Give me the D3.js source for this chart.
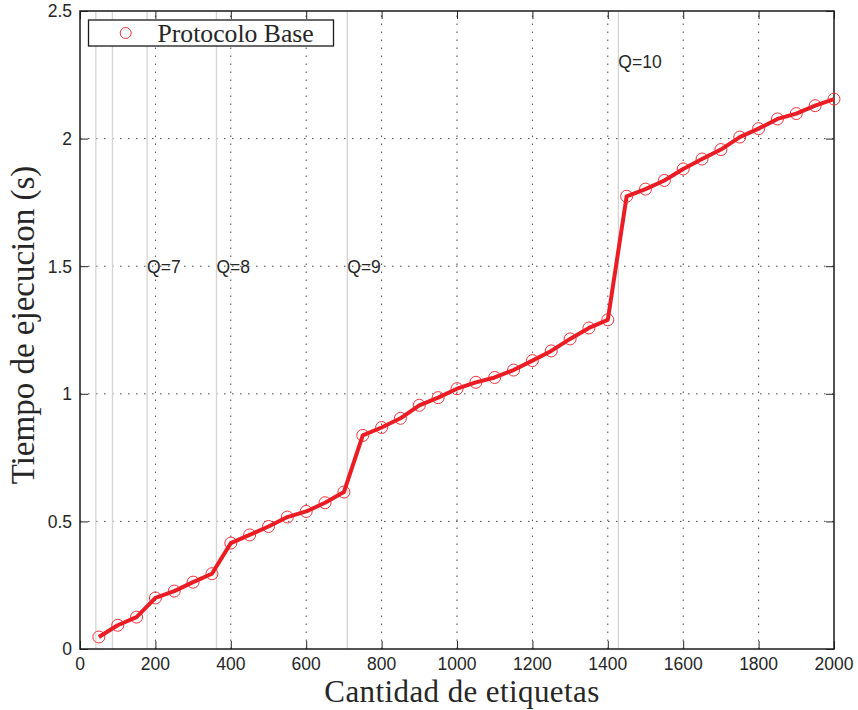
<!DOCTYPE html>
<html>
<head>
<meta charset="utf-8">
<script src="https://cdn.jsdelivr.net/npm/d3@7"></script>
<style>
  body { margin: 0; background: #fff; }
  svg { display: block; }
  .tick-label { font-family: "Liberation Sans", Arial, sans-serif; font-size: 17.5px; fill: #262626; }
  .serif { font-family: "Liberation Serif", "Times New Roman", serif; fill: #262626; }
</style>
</head>
<body>
<script>
// Width and height
var w = 858;
var h = 710;
var margin = {top: 11, right: 24, bottom: 61, left: 80};

// data
var etiquetas = [50, 100, 150, 200, 250, 300, 350, 400, 450, 500,
                 550, 600, 650, 700, 750, 800, 850, 900, 950, 1000,
                 1050, 1100, 1150, 1200, 1250, 1300, 1350, 1400, 1450, 1500,
                 1550, 1600, 1650, 1700, 1750, 1800, 1850, 1900, 1950, 2000];
var tiempo = [0.047, 0.093, 0.125, 0.200, 0.227, 0.262, 0.295, 0.415, 0.447, 0.480,
              0.517, 0.539, 0.573, 0.615, 0.837, 0.868, 0.904, 0.955, 0.985, 1.020,
              1.045, 1.064, 1.093, 1.130, 1.168, 1.215, 1.258, 1.290, 1.774, 1.802,
              1.836, 1.881, 1.920, 1.957, 2.006, 2.039, 2.077, 2.098, 2.129, 2.155];

// Q threshold lines and labels
var qLines = [42, 86, 178, 362, 709, 1428];
var qLabels = ['Q=7', 'Q=8', 'Q=9', 'Q=10'];
var qLabelX = [178, 362, 709, 1428];
var qLabelY = [1.5, 1.5, 1.5, 2.3];

var xTicks = [0, 200, 400, 600, 800, 1000, 1200, 1400, 1600, 1800, 2000];
var yTicks = [0, 0.5, 1, 1.5, 2, 2.5];

var x = d3.scaleLinear().domain([0, 2000]).range([margin.left, w - margin.right]);
var y = d3.scaleLinear().domain([0, 2.5]).range([h - margin.bottom, margin.top]);

var svg = d3.select('body')
    .append('svg')
    .attr('width', w)
    .attr('height', h);

// dotted grid
var grid_g = svg.append('g').attr('class', 'grid');
grid_g.selectAll('.vgrid')
    .data(xTicks.slice(1, -1))
    .enter()
    .append('line')
    .attr('x1', d => x(d)).attr('x2', d => x(d))
    .attr('y1', y(0)).attr('y2', y(2.5))
    .attr('stroke', '#444')
    .attr('stroke-width', 1)
    .attr('stroke-dasharray', '1.5,6.5');
grid_g.selectAll('.hgrid')
    .data(yTicks.slice(1, -1))
    .enter()
    .append('line')
    .attr('x1', x(0)).attr('x2', x(2000))
    .attr('y1', d => y(d)).attr('y2', d => y(d))
    .attr('stroke', '#444')
    .attr('stroke-width', 1)
    .attr('stroke-dasharray', '1.5,6.5');

// Q lines
svg.append('g').selectAll('line')
    .data(qLines)
    .enter()
    .append('line')
    .attr('x1', d => x(d)).attr('x2', d => x(d))
    .attr('y1', y(0)).attr('y2', y(2.5))
    .attr('stroke', '#d4d4d4')
    .attr('stroke-width', 1.3);

svg.append('g').selectAll('text')
    .data(qLabels)
    .enter()
    .append('text')
    .attr('class', 'tick-label')
    .attr('x', (d, i) => x(qLabelX[i]))
    .attr('y', (d, i) => y(qLabelY[i]))
    .attr('dy', '0.36em')
    .text(d => d);

// axes box + inward ticks, MATLAB style
var tickLen = 8;
var axis_g = svg.append('g').attr('class', 'axes');
axis_g.append('g')
    .attr('transform', 'translate(0,' + y(0) + ')')
    .call(d3.axisTop(x).tickValues(xTicks).tickSize(tickLen).tickFormat(''));
axis_g.append('g')
    .attr('transform', 'translate(0,' + y(2.5) + ')')
    .call(d3.axisBottom(x).tickValues(xTicks).tickSize(tickLen).tickFormat(''));
axis_g.append('g')
    .attr('transform', 'translate(' + x(0) + ',0)')
    .call(d3.axisRight(y).tickValues(yTicks).tickSize(tickLen).tickFormat(''));
axis_g.append('g')
    .attr('transform', 'translate(' + x(2000) + ',0)')
    .call(d3.axisLeft(y).tickValues(yTicks).tickSize(tickLen).tickFormat(''));
axis_g.selectAll('path.domain').remove();
axis_g.selectAll('.tick line').attr('stroke', '#262626').attr('stroke-width', 1);

axis_g.append('rect')
    .attr('x', x(0)).attr('y', y(2.5))
    .attr('width', x(2000) - x(0)).attr('height', y(0) - y(2.5))
    .attr('fill', 'none')
    .attr('stroke', '#1a1a1a')
    .attr('stroke-width', 1.5);

// tick labels
svg.append('g').selectAll('text')
    .data(xTicks)
    .enter()
    .append('text')
    .attr('class', 'tick-label')
    .attr('x', d => x(d))
    .attr('y', y(0) + 21)
    .attr('text-anchor', 'middle')
    .text(d => d);
svg.append('g').selectAll('text')
    .data(yTicks)
    .enter()
    .append('text')
    .attr('class', 'tick-label')
    .attr('x', x(0) - 8)
    .attr('y', d => y(d))
    .attr('dy', '0.36em')
    .attr('text-anchor', 'end')
    .text(d => d);

// axis titles
svg.append('text')
    .attr('class', 'serif')
    .attr('x', 462)
    .attr('y', 702)
    .attr('text-anchor', 'middle')
    .style('font-size', '31px')
    .style('letter-spacing', '0.4px')
    .text('Cantidad de etiquetas');
svg.append('text')
    .attr('class', 'serif')
    .attr('transform', 'translate(34,325) rotate(-90)')
    .attr('text-anchor', 'middle')
    .style('font-size', '33px')
    .text('Tiempo de ejecucion (s)');

// the series
var line = d3.line()
    .x((d, i) => x(etiquetas[i]))
    .y(d => y(d));

var series_g = svg.append('g').attr('class', 'series');
series_g.selectAll('circle')
    .data(tiempo)
    .enter()
    .append('circle')
    .attr('cx', (d, i) => x(etiquetas[i]))
    .attr('cy', d => y(d))
    .attr('r', 6)
    .attr('fill', 'none')
    .attr('stroke', '#f0333a')
    .attr('stroke-width', 1);
series_g.append('path')
    .datum(tiempo)
    .attr('d', line)
    .attr('fill', 'none')
    .attr('stroke', '#ec1c24')
    .attr('stroke-width', 4)
    .attr('stroke-linejoin', 'round');

// legend
var legend = svg.append('g').attr('class', 'legend');
legend.append('rect')
    .attr('x', 88.5).attr('y', 20)
    .attr('width', 245).attr('height', 26)
    .attr('fill', '#fff')
    .attr('stroke', '#1a1a1a')
    .attr('stroke-width', 1.3);
legend.append('circle')
    .attr('cx', 125.7).attr('cy', 33)
    .attr('r', 5.5)
    .attr('fill', 'none')
    .attr('stroke', '#f0333a')
    .attr('stroke-width', 1);
legend.append('text')
    .attr('class', 'serif')
    .attr('x', 157.5).attr('y', 41.5)
    .style('font-size', '25.7px')
    .text('Protocolo Base');
</script>
</body>
</html>
